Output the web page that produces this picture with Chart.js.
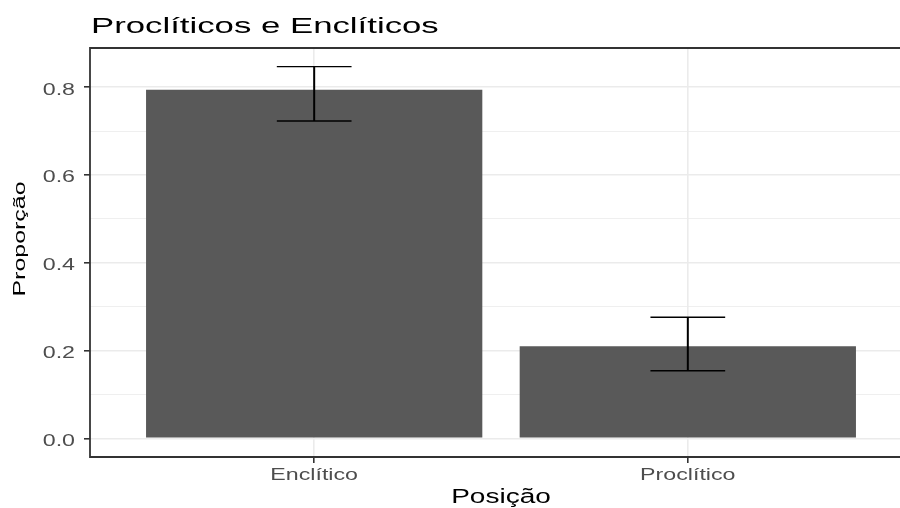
<!DOCTYPE html>
<html>
<head>
<meta charset="utf-8">
<script src="https://cdn.jsdelivr.net/npm/chart.js@4/dist/chart.umd.min.js"></script>
<style>
  html, body { margin: 0; padding: 0; background: #ffffff; overflow: hidden; }
  #wrap { position: relative; width: 900px; height: 508px; overflow: hidden; }
  #chart { display: block; width: 914px; height: 508px; max-width: none; }
</style>
</head>
<body>
<div id="wrap"><canvas id="chart" width="914" height="508"></canvas></div>
<script>
// Proportion of each clitic position, with confidence-interval bounds
const categories  = ['Enclítico', 'Proclítico'];
const proportions = [0.794, 0.21];
const ciLower     = [0.723, 0.154];
const ciUpper     = [0.847, 0.276];

// Y axis ticks (major, labelled) and minor grid positions
const yTickValues  = [0, 0.2, 0.4, 0.6, 0.8];
const yTickLabels  = ['0.0', '0.2', '0.4', '0.6', '0.8'];
const yMinorValues = [0.1, 0.3, 0.5, 0.7];

const chartTitle = 'Proclíticos e Enclíticos';
const xTitle = 'Posição';
const yTitle = 'Proporção';

// Value range with 5% expansion on each side
const yLo = Math.min(0, ...ciLower);
const yHi = Math.max(...ciUpper, ...proportions);
const yPad = 0.05 * (yHi - yLo);

const FONT = '"Liberation Sans", Arial, Helvetica, sans-serif';
const GRID = '#EBEBEB';
const DARK = '#333333';
const TICK_TEXT = '#4D4D4D';

// Text drawn widened along its writing direction
function wideText(ctx, str, x, y, o) {
  ctx.save();
  ctx.translate(x, y);
  if (o.rotate) ctx.rotate(o.rotate);
  ctx.scale(o.sx, 1);
  ctx.font = `${o.size}px ${FONT}`;
  ctx.fillStyle = o.color;
  ctx.textAlign = o.align;
  ctx.textBaseline = 'alphabetic';
  ctx.fillText(str, 0, 0);
  ctx.restore();
}

const errorBars = {
  id: 'errorBars',
  afterDatasetsDraw(chart) {
    const { ctx, scales: { x, y } } = chart;
    ctx.save();
    ctx.strokeStyle = '#000000';
    ctx.lineCap = 'butt';
    categories.forEach((_, i) => {
      const cx = x.getPixelForValue(i + 1);
      const xl = x.getPixelForValue(i + 1 - 0.1);
      const xr = x.getPixelForValue(i + 1 + 0.1);
      const yt = y.getPixelForValue(ciUpper[i]);
      const yb = y.getPixelForValue(ciLower[i]);
      ctx.lineWidth = 1.4;
      ctx.beginPath();
      ctx.moveTo(xl, yt); ctx.lineTo(xr, yt);
      ctx.moveTo(xl, yb); ctx.lineTo(xr, yb);
      ctx.stroke();
      ctx.lineWidth = 2;
      ctx.beginPath();
      ctx.moveTo(cx, yt); ctx.lineTo(cx, yb);
      ctx.stroke();
    });
    ctx.restore();
  }
};

const frameAndText = {
  id: 'frameAndText',
  afterDraw(chart) {
    const { ctx, chartArea: a, scales: { x, y } } = chart;
    // panel border: top, left and bottom (the right side lies beyond the view)
    ctx.save();
    ctx.strokeStyle = DARK;
    ctx.lineWidth = 1.8;
    ctx.beginPath();
    ctx.moveTo(a.right, a.top);
    ctx.lineTo(a.left, a.top);
    ctx.lineTo(a.left, a.bottom);
    ctx.lineTo(a.right, a.bottom);
    ctx.stroke();
    ctx.restore();

    // y tick labels
    yTickValues.forEach((v, i) => {
      wideText(ctx, yTickLabels[i], 75, y.getPixelForValue(v) + 7.4,
        { size: 16, sx: 1.45, align: 'right', color: TICK_TEXT });
    });
    // x tick labels
    categories.forEach((c, i) => {
      wideText(ctx, c, x.getPixelForValue(i + 1), 480,
        { size: 16, sx: 1.45, align: 'center', color: TICK_TEXT });
    });
    // titles
    wideText(ctx, chartTitle, 91, 33, { size: 22, sx: 1.58, align: 'left', color: '#000000' });
    wideText(ctx, xTitle, (a.left + a.right) / 2, 503, { size: 20, sx: 1.4, align: 'center', color: '#000000' });
    wideText(ctx, yTitle, 25, 239, { size: 16, sx: 1.56, align: 'center', color: '#000000', rotate: -Math.PI / 2 });
  }
};

new Chart(document.getElementById('chart'), {
  type: 'bar',
  data: {
    datasets: [{
      data: categories.map((c, i) => ({ x: i + 1, y: proportions[i] })),
      backgroundColor: '#595959',
      borderWidth: 0,
      categoryPercentage: 1,
      barPercentage: 0.9
    }]
  },
  options: {
    responsive: false,
    animation: false,
    devicePixelRatio: 1,
    layout: { padding: { top: 48, right: 2, left: 0, bottom: 0 } },
    plugins: { legend: { display: false }, title: { display: false }, tooltip: { enabled: false } },
    scales: {
      x: {
        type: 'linear',
        offset: false,
        min: 0.4,
        max: categories.length + 0.6,
        afterBuildTicks: s => { s.ticks = categories.map((c, i) => ({ value: i + 1 })); },
        afterFit: s => { s.height = 51; },
        ticks: { display: false },
        border: { display: false },
        grid: {
          offset: false,
          color: GRID,
          lineWidth: 1.6,
          drawTicks: true,
          tickLength: 6,
          tickColor: DARK,
          tickWidth: 1.6
        }
      },
      y: {
        type: 'linear',
        min: yLo - yPad,
        max: yHi + yPad,
        afterBuildTicks: s => {
          const all = yTickValues.map(v => ({ value: v, major: true }))
            .concat(yMinorValues.map(v => ({ value: v, major: false })));
          all.sort((p, q) => p.value - q.value);
          s.ticks = all;
        },
        afterFit: s => { s.width = 90; },
        ticks: { display: false },
        border: { display: false },
        grid: {
          color: GRID,
          lineWidth: c => (c.tick && c.tick.major ? 1.6 : 0.8),
          drawTicks: true,
          tickLength: 6,
          tickColor: c => (c.tick && c.tick.major ? DARK : 'rgba(0,0,0,0)'),
          tickWidth: 1.6
        }
      }
    }
  },
  plugins: [errorBars, frameAndText]
});
</script>
</body>
</html>
